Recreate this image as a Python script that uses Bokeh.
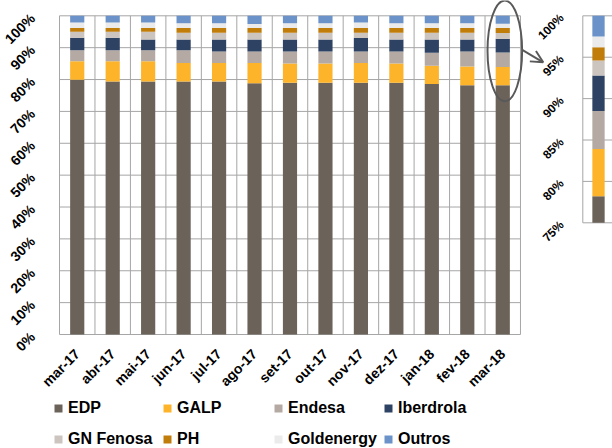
from math import pi
import numpy as np
from bokeh.plotting import figure
from bokeh.models import (Range1d, FixedTicker, PrintfTickFormatter, Legend, LegendItem,
                          Arrow, OpenHead, ColumnDataSource, LinearAxis)
from bokeh.embed import file_html
from bokeh.resources import INLINE

months = ["mar-17", "abr-17", "mai-17", "jun-17", "jul-17", "ago-17", "set-17",
          "out-17", "nov-17", "dez-17", "jan-18", "fev-18", "mar-18"]
edp        = [79.9, 79.4, 79.4, 79.4, 79.4, 78.8, 79.0, 79.0, 79.0, 79.0, 78.6, 78.2, 78.2]
galp       = [5.8, 6.3, 6.3, 5.8, 5.8, 6.4, 6.0, 6.0, 6.2, 6.0, 5.7, 5.9, 5.7]
endesa     = [3.5, 3.5, 3.5, 4.0, 3.6, 3.6, 3.8, 3.8, 3.6, 3.8, 4.1, 4.7, 4.6]
iberdrola  = [3.9, 3.9, 3.4, 3.4, 3.8, 3.8, 3.8, 3.8, 4.2, 3.8, 4.2, 3.8, 4.3]
gn_fenosa  = [1.9, 1.9, 2.4, 2.1, 2.1, 2.1, 2.1, 2.1, 1.7, 2.1, 2.1, 2.1, 1.8]
ph         = [1.2, 1.2, 1.2, 1.5, 1.5, 1.5, 1.5, 1.5, 1.5, 1.5, 1.5, 1.5, 1.6]
goldenergy = [1.7, 1.7, 1.7, 1.5, 1.5, 1.2, 1.5, 1.5, 1.7, 1.5, 1.5, 1.5, 1.3]
outros     = [2.1, 2.1, 2.1, 2.3, 2.3, 2.6, 2.3, 2.3, 2.1, 2.3, 2.3, 2.3, 2.5]

companies = ["EDP", "GALP", "Endesa", "Iberdrola", "GN Fenosa", "PH", "Goldenergy", "Outros"]
series = [edp, galp, endesa, iberdrola, gn_fenosa, ph, goldenergy, outros]
colors = ["#6b625a", "#fdb42b", "#b4aaa3", "#2e4263", "#ccc4be", "#c07d0a", "#ebebeb", "#6b93c9"]

y_ticks = list(range(0, 101, 10))
inset_ticks = [75, 80, 85, 90, 95, 100]

FONT = "Liberation Sans"
GRID = "#a6a6a6"
DECOR = "#595959"

n = len(months)
x = list(range(n))
data = {"x": x}
for c, s in zip(companies, series):
    data[c] = s
source = ColumnDataSource(data)

# one canvas; the frame fills it and the axes are pinned at fixed locations
p = figure(width=612, height=448, x_range=Range1d(-2.164, 15.095), y_range=Range1d(-35.77, 104.8),
           output_backend="svg", toolbar_location=None, min_border=0)
p.xgrid.visible = False
p.ygrid.visible = False
p.outline_line_color = None

# plot box and grid (behind the bars)
bounds = [i - 0.5 for i in range(n + 1)]
p.segment(x0=-0.5, x1=n - 0.5, y0=y_ticks, y1=y_ticks, line_color=GRID, line_width=1)
p.segment(x0=bounds, x1=bounds, y0=0, y1=100, line_color=GRID, line_width=1)

renderers = p.vbar_stack(companies, x="x", width=0.4, color=colors, line_color=None, source=source)

p.xaxis.fixed_location = 0
p.xaxis.ticker = FixedTicker(ticks=x)
p.xaxis.major_label_overrides = {i: m for i, m in enumerate(months)}
p.xaxis.major_label_orientation = pi / 4
p.xaxis.major_label_standoff = 17
p.yaxis.fixed_location = -0.5
p.yaxis.ticker = FixedTicker(ticks=y_ticks)
p.yaxis.formatter = PrintfTickFormatter(format="%d%%")
p.yaxis.major_label_orientation = pi / 4
p.yaxis.major_label_standoff = 27

# inset: zoom on the last month between 75% and 100%
p.extra_x_ranges = {"ix": Range1d(-48.62, 1.138)}
p.extra_y_ranges = {"iy": Range1d(47.74, 101.85)}
box_left = -1.276
vals = np.array([s[-1] for s in series])
tops = np.cumsum(vals)
bots = tops - vals
lo, hi = inset_ticks[0], inset_ticks[-1]
inset_src = ColumnDataSource({"x": [0] * len(vals), "bottom": np.maximum(bots, lo),
                              "top": np.maximum(tops, lo), "color": colors})
p.segment(x0=box_left, x1=3.0, y0=inset_ticks, y1=inset_ticks, line_color=GRID, line_width=1,
          x_range_name="ix", y_range_name="iy")
p.segment(x0=[box_left], x1=[box_left], y0=[lo], y1=[hi], line_color=GRID, line_width=1,
          x_range_name="ix", y_range_name="iy")
p.vbar(x="x", bottom="bottom", top="top", width=1.0, fill_color="color", line_color=None,
       source=inset_src, x_range_name="ix", y_range_name="iy")
inset_axis = LinearAxis(x_range_name="ix", y_range_name="iy", fixed_location=box_left,
                        ticker=FixedTicker(ticks=inset_ticks),
                        formatter=PrintfTickFormatter(format="%d%%"),
                        major_label_orientation=pi / 4, major_label_standoff=21)
p.add_layout(inset_axis, "left")

for ax in (p.xaxis[0], p.yaxis[0], inset_axis):
    ax.axis_line_color = None
    ax.major_tick_line_color = None
    ax.minor_tick_line_color = None
    ax.major_tick_out = 0
    ax.major_tick_in = 0
    ax.major_label_text_font = FONT
    ax.major_label_text_font_style = "bold"
    ax.major_label_text_font_size = "14px"
    ax.major_label_text_color = "#000000"
inset_axis.major_label_text_font_size = "12px"

# highlight oval around the last month and arrow pointing to the inset
last = n - 1
p.ellipse(x=[last + 0.058], y=[89.0], width=0.976, height=31.6,
          fill_color=None, line_color=DECOR, line_width=2)
p.add_layout(Arrow(end=OpenHead(size=12, line_color=DECOR, line_width=2),
                   x_start=last + 0.549, y_start=89.3, x_end=last + 1.141, y_end=85.4,
                   line_color=DECOR, line_width=2))

# legend: four columns of two entries
col_x = [53, 162, 273, 383]
for k, cx in enumerate(col_x):
    items = [LegendItem(label=companies[k], renderers=[renderers[k]]),
             LegendItem(label=companies[k + 4], renderers=[renderers[k + 4]])]
    p.add_layout(Legend(items=items, location=(cx, -1), orientation="vertical",
                        padding=0, margin=0, spacing=11, glyph_width=10, glyph_height=10,
                        label_height=20, label_standoff=5, label_text_font=FONT,
                        label_text_font_style="bold", label_text_font_size="16px",
                        label_text_color="#000000",
                        background_fill_alpha=0, border_line_color=None))

open("out.html", "w").write(file_html(p, INLINE))
